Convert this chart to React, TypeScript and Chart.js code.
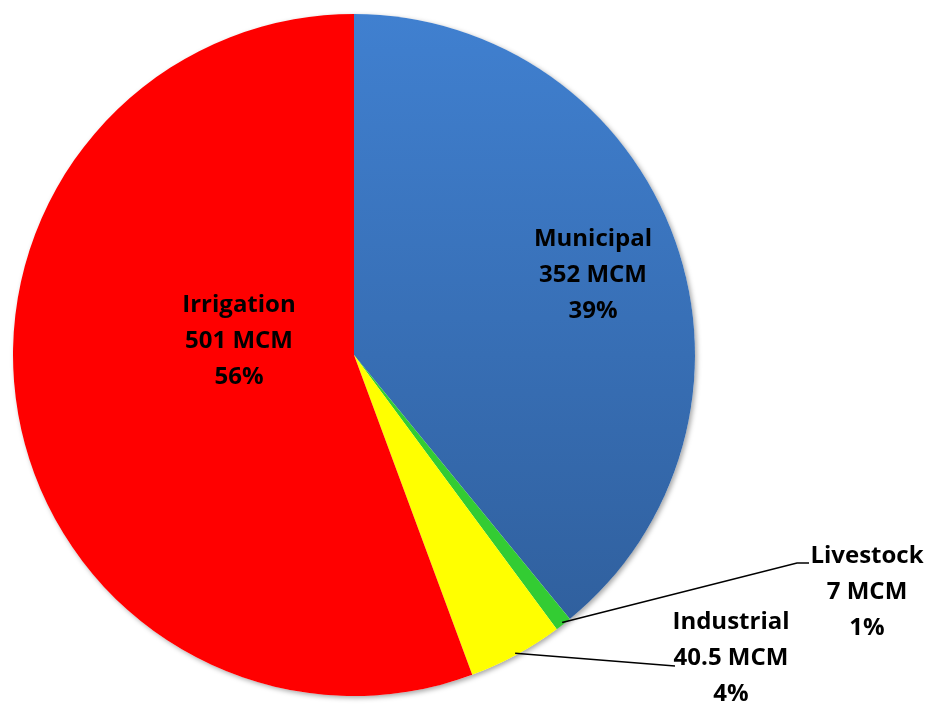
import React, { useEffect, useRef } from "react";
import { Chart, registerables } from "chart.js";

Chart.register(...registerables);

const categories = ["Municipal", "Livestock", "Industrial", "Irrigation"];
const values = [352, 7, 40.5, 501];
const valueLabels = ["352 MCM", "7 MCM", "40.5 MCM", "501 MCM"];
const percentLabels = ["39%", "1%", "4%", "56%"];

const FONT = "bold 24px 'Open Sans', 'Noto Sans', sans-serif";

export default function App() {
  const ref = useRef<HTMLCanvasElement | null>(null);

  useEffect(() => {
    const canvas = ref.current!;
    const ctx = canvas.getContext("2d")!;

    const shadowPlugin = {
      id: "shadowCircle",
      beforeDatasetsDraw(chart: any) {
        const arc = chart.getDatasetMeta(0).data[0];
        if (!arc) return;
        const c = chart.ctx;
        c.save();
        c.shadowColor = "rgba(0,0,0,0.35)";
        c.shadowBlur = 5;
        c.shadowOffsetX = 2;
        c.shadowOffsetY = 2;
        c.beginPath();
        c.arc(arc.x, arc.y, arc.outerRadius, 0, Math.PI * 2);
        c.fillStyle = "#ffffff";
        c.fill();
        c.restore();
      },
    };

    const labelPlugin = {
      id: "pieLabels",
      afterDatasetsDraw(chart: any) {
        const meta = chart.getDatasetMeta(0);
        const c = chart.ctx;
        c.save();
        c.font = FONT;
        c.fillStyle = "#000000";
        c.textAlign = "center";
        c.textBaseline = "middle";
        const lineH = 36;
        const drawBlock = (i: number, x: number, y: number) => {
          const lines = [categories[i], valueLabels[i], percentLabels[i]];
          lines.forEach((t, k) => c.fillText(t, x, y + (k - 1) * lineH));
        };
        const mid = (i: number) => {
          const a = meta.data[i];
          return { a, ang: (a.startAngle + a.endAngle) / 2 };
        };
        const a0 = meta.data[0];
        // inside labels (offsets from pie centre)
        drawBlock(0, a0.x + 239, a0.y - 80);
        drawBlock(3, a0.x - 115, a0.y - 14);
        // outside labels with leader lines
        c.strokeStyle = "#000000";
        c.lineWidth = 1.5;
        {
          const { a, ang } = mid(1);
          const sx = a.x + Math.cos(ang) * (a.outerRadius - 2);
          const sy = a.y + Math.sin(ang) * (a.outerRadius - 2);
          c.beginPath();
          c.moveTo(sx, sy);
          c.lineTo(797, 563);
          c.lineTo(809, 563);
          c.stroke();
          drawBlock(1, 867, 592);
        }
        {
          const { a, ang } = mid(2);
          const sx = a.x + Math.cos(ang) * (a.outerRadius - 2);
          const sy = a.y + Math.sin(ang) * (a.outerRadius - 2);
          c.beginPath();
          c.moveTo(sx, sy);
          c.lineTo(675, 666);
          c.stroke();
          drawBlock(2, 731, 658);
        }
        c.restore();
      },
    };

    const grad = ctx.createLinearGradient(0, 14, 0, 696);
    grad.addColorStop(0, "#4080d0");
    grad.addColorStop(1, "#2e5c98");

    const chart = new Chart(canvas, {
      type: "pie",
      data: {
        labels: categories,
        datasets: [
          {
            data: values,
            backgroundColor: [grad, "#33cc33", "#ffff00", "#ff0000"],
            borderWidth: 0,
          },
        ],
      },
      options: {
        responsive: false,
        animation: false,
        layout: { padding: { left: 13, right: 235, top: 14, bottom: 10 } },
        plugins: {
          legend: { display: false },
          tooltip: { enabled: false },
        },
      },
      plugins: [shadowPlugin, labelPlugin],
    });
    return () => chart.destroy();
  }, []);

  return (
    <div style={{ position: "fixed", left: 0, top: 0, width: 930, height: 706, background: "#ffffff" }}>
      <canvas ref={ref} width={930} height={706} style={{ width: 930, height: 706, display: "block" }} />
    </div>
  );
}
